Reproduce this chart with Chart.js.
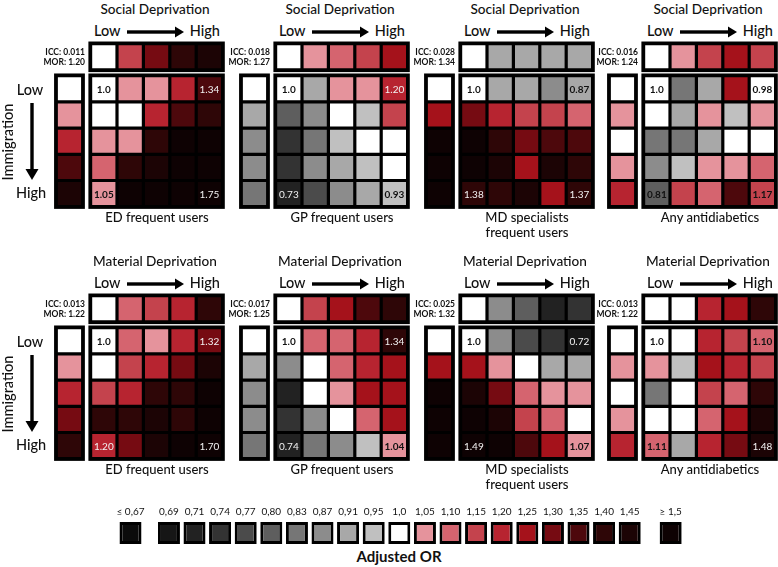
<!DOCTYPE html>
<html>
<head>
<meta charset="utf-8">
<script src="https://cdn.jsdelivr.net/npm/chart.js@4.4.0/dist/chart.umd.min.js"></script>
<style>
  body { margin: 0; background: #fff; }
  #fig { position: relative; width: 778px; height: 567px; overflow: hidden;
         font-family: Lato, "Open Sans", sans-serif; color: #111; background: #fff; }
  #fig canvas { position: absolute; }
  .t { position: absolute; white-space: nowrap; line-height: 1; }
  .big { font-size: 14.5px; font-weight: 500; }
  .ttl { font-size: 13.6px; font-weight: 500; }
  .lab { font-size: 13px; font-weight: 500; }
  .icc { font-size: 8.5px; font-weight: bold; }
  .axis { font-size: 15px; font-weight: bold; }
</style>
</head>
<body>
<div id="fig"></div>
<script>
// Adjusted OR legend bins
const orBins = [0.67, 0.69, 0.71, 0.74, 0.77, 0.80, 0.83, 0.87, 0.91, 0.95, 1.0,
                1.05, 1.10, 1.15, 1.20, 1.25, 1.30, 1.35, 1.40, 1.45, 1.5];
const orLabels = ['≤ 0,67', '0,69', '0,71', '0,74', '0,77', '0,80', '0,83', '0,87', '0,91', '0,95', '1,0',
                  '1,05', '1,10', '1,15', '1,20', '1,25', '1,30', '1,35', '1,40', '1,45', '≥ 1,5'];
const orColors = ['#0b0b0b', '#161616', '#222222', '#333333', '#4b4b4b', '#5e5e5e', '#767676', '#8c8c8c', '#a8a8a8', '#c0c0c0', '#ffffff',
                  '#e5939c', '#d5646f', '#c4434d', '#b72430', '#a5121b', '#760b12', '#4d080c', '#2e0607', '#1c0405', '#0e0203'];

// Social deprivation - ED frequent users
const socED_top = [1.0, 1.15, 1.30, 1.40, 1.45];
const socED_left = [1.0, 1.05, 1.20, 1.35, 1.45];
const socED_grid = [
  [1.0, 1.05, 1.05, 1.20, 1.35],
  [1.0, 1.0, 1.20, 1.35, 1.40],
  [1.05, 1.05, 1.40, 1.5, 1.5],
  [1.10, 1.40, 1.45, 1.5, 1.5],
  [1.05, 1.5, 1.5, 1.5, 1.5]
];
const socED_corners = ['1.0', '1.34', '1.05', '1.75'];

// Social deprivation - GP frequent users
const socGP_top = [1.0, 1.05, 1.10, 1.15, 1.25];
const socGP_left = [1.0, 0.91, 0.87, 0.87, 0.83];
const socGP_grid = [
  [1.0, 0.91, 1.05, 1.05, 1.20],
  [0.80, 0.87, 1.0, 0.95, 1.15],
  [0.74, 0.83, 0.95, 1.0, 1.0],
  [0.74, 0.87, 0.91, 0.95, 1.0],
  [0.71, 0.77, 0.87, 0.91, 0.95]
];
const socGP_corners = ['1.0', '1.20', '0.73', '0.93'];

// Social deprivation - MD specialists frequent users
const socMD_top = [1.0, 0.91, 0.91, 0.91, 0.91];
const socMD_left = [1.0, 1.25, 1.5, 1.5, 1.5];
const socMD_grid = [
  [1.0, 0.91, 0.91, 0.87, 0.91],
  [1.30, 1.20, 1.15, 1.15, 1.10],
  [1.5, 1.40, 1.30, 1.35, 1.35],
  [1.5, 1.45, 1.25, 1.45, 1.40],
  [1.40, 1.40, 1.45, 1.25, 1.40]
];
const socMD_corners = ['1.0', '0.87', '1.38', '1.37'];

// Social deprivation - any antidiabetics
const socAD_top = [1.0, 1.05, 1.15, 1.25, 1.15];
const socAD_left = [1.0, 1.05, 1.0, 1.05, 1.20];
const socAD_grid = [
  [1.0, 0.83, 0.91, 1.25, 1.0],
  [1.0, 0.91, 1.05, 0.95, 1.05],
  [0.83, 0.83, 0.91, 1.0, 1.0],
  [0.87, 0.95, 1.05, 1.05, 1.10],
  [0.80, 1.15, 1.10, 1.35, 1.15]
];
const socAD_corners = ['1.0', '0.98', '0.81', '1.17'];

// Material deprivation - ED frequent users
const matED_top = [1.0, 1.10, 1.15, 1.20, 1.40];
const matED_left = [1.0, 1.05, 1.20, 1.30, 1.40];
const matED_grid = [
  [1.0, 1.10, 1.05, 1.20, 1.30],
  [1.0, 1.15, 1.20, 1.30, 1.45],
  [1.15, 1.20, 1.40, 1.40, 1.5],
  [1.40, 1.40, 1.45, 1.40, 1.5],
  [1.20, 1.30, 1.45, 1.5, 1.5]
];
const matED_corners = ['1.0', '1.32', '1.20', '1.70'];

// Material deprivation - GP frequent users
const matGP_top = [1.0, 1.15, 1.25, 1.35, 1.40];
const matGP_left = [1.0, 0.91, 0.87, 0.87, 0.83];
const matGP_grid = [
  [1.0, 1.10, 1.10, 1.20, 1.40],
  [0.87, 1.0, 1.10, 1.20, 1.25],
  [0.71, 1.0, 1.05, 1.25, 1.25],
  [0.74, 0.87, 1.0, 1.10, 1.25],
  [0.71, 0.83, 0.87, 0.95, 1.05]
];
const matGP_corners = ['1.0', '1.34', '0.74', '1.04'];

// Material deprivation - MD specialists frequent users
const matMD_top = [1.0, 0.87, 0.80, 0.71, 0.74];
const matMD_left = [1.0, 1.25, 1.5, 1.5, 1.5];
const matMD_grid = [
  [1.0, 0.87, 0.77, 0.74, 0.69],
  [1.25, 1.05, 1.0, 0.91, 0.91],
  [1.45, 1.30, 1.10, 1.05, 1.05],
  [1.5, 1.45, 1.15, 1.10, 1.0],
  [1.5, 1.5, 1.35, 1.25, 1.05]
];
const matMD_corners = ['1.0', '0.72', '1.49', '1.07'];

// Material deprivation - any antidiabetics
const matAD_top = [1.0, 1.0, 1.20, 1.25, 1.40];
const matAD_left = [1.0, 1.05, 1.0, 1.05, 1.20];
const matAD_grid = [
  [1.0, 1.0, 1.20, 1.15, 1.10],
  [1.05, 0.95, 1.25, 1.20, 1.15],
  [0.83, 1.0, 1.15, 1.10, 1.40],
  [1.0, 1.0, 1.10, 1.25, 1.45],
  [1.10, 0.91, 1.20, 1.30, 1.45]
];
const matAD_corners = ['1.0', '1.10', '1.11', '1.48'];

const panels = [
  { title: 'Social Deprivation', outcome: ['ED frequent users'], icc: '0.011', mor: '1.20', top: socED_top, left: socED_left, grid: socED_grid, corners: socED_corners },
  { title: 'Social Deprivation', outcome: ['GP frequent users'], icc: '0.018', mor: '1.27', top: socGP_top, left: socGP_left, grid: socGP_grid, corners: socGP_corners },
  { title: 'Social Deprivation', outcome: ['MD specialists', 'frequent users'], icc: '0.028', mor: '1.34', top: socMD_top, left: socMD_left, grid: socMD_grid, corners: socMD_corners },
  { title: 'Social Deprivation', outcome: ['Any antidiabetics'], icc: '0.016', mor: '1.24', top: socAD_top, left: socAD_left, grid: socAD_grid, corners: socAD_corners },
  { title: 'Material Deprivation', outcome: ['ED frequent users'], icc: '0.013', mor: '1.22', top: matED_top, left: matED_left, grid: matED_grid, corners: matED_corners },
  { title: 'Material Deprivation', outcome: ['GP frequent users'], icc: '0.017', mor: '1.25', top: matGP_top, left: matGP_left, grid: matGP_grid, corners: matGP_corners },
  { title: 'Material Deprivation', outcome: ['MD specialists', 'frequent users'], icc: '0.025', mor: '1.32', top: matMD_top, left: matMD_left, grid: matMD_grid, corners: matMD_corners },
  { title: 'Material Deprivation', outcome: ['Any antidiabetics'], icc: '0.013', mor: '1.22', top: matAD_top, left: matAD_left, grid: matAD_grid, corners: matAD_corners }
];

Chart.defaults.font.family = 'Lato, "Open Sans", sans-serif';

const fig = document.getElementById('fig');
const U = 26.4, V = 26.2;          // cell pitch in px
const colX = [91, 276, 461, 644];  // left edge of each 5x5 grid
const rowY = [76, 328];            // top edge of each 5x5 grid

function colorFor(v) {
  let best = 0;
  orBins.forEach((b, i) => { if (Math.abs(b - v) < Math.abs(orBins[best] - v)) best = i; });
  return orColors[best];
}

function txt(s, x, y, cls, align) {
  const d = document.createElement('div');
  d.className = 't ' + cls;
  d.textContent = s;
  d.style.left = x + 'px';
  d.style.top = y + 'px';
  const tx = align === 'l' ? '0' : align === 'r' ? '-100%' : '-50%';
  d.style.transform = 'translate(' + tx + ',-50%)';
  fig.appendChild(d);
  return d;
}

function hArrow(x1, x2, y) {
  const ns = 'http://www.w3.org/2000/svg';
  const s = document.createElementNS(ns, 'svg');
  s.setAttribute('width', x2 - x1 + 2); s.setAttribute('height', 14);
  s.style.position = 'absolute'; s.style.left = x1 + 'px'; s.style.top = (y - 7) + 'px';
  s.innerHTML = '<rect x="0" y="5.3" width="' + (x2 - x1 - 7) + '" height="3.4" fill="#000"/>' +
    '<polygon points="' + (x2 - x1 - 9) + ',1.5 ' + (x2 - x1) + ',7 ' + (x2 - x1 - 9) + ',12.5" fill="#000"/>';
  fig.appendChild(s);
}

function vArrow(x, y1, y2) {
  const ns = 'http://www.w3.org/2000/svg';
  const s = document.createElementNS(ns, 'svg');
  s.setAttribute('width', 16); s.setAttribute('height', y2 - y1 + 2);
  s.style.position = 'absolute'; s.style.left = (x - 8) + 'px'; s.style.top = y1 + 'px';
  s.innerHTML = '<rect x="6.3" y="0" width="3.4" height="' + (y2 - y1 - 8) + '" fill="#000"/>' +
    '<polygon points="1.5,' + (y2 - y1 - 11) + ' 8,' + (y2 - y1) + ' 14.5,' + (y2 - y1 - 11) + '" fill="#000"/>';
  fig.appendChild(s);
}

// black frame behind each strip of cells
const framePlugin = {
  id: 'frames',
  beforeDatasetsDraw(chart, args, opts) {
    const ctx = chart.ctx;
    ctx.save();
    ctx.fillStyle = '#000';
    chart.data.datasets.forEach((ds, i) => {
      let l = Infinity, r = -Infinity, t = Infinity, b = -Infinity;
      chart.getDatasetMeta(i).data.forEach(el => {
        const p = el.getProps(['x', 'y', 'base', 'width'], true);
        l = Math.min(l, p.x - p.width / 2); r = Math.max(r, p.x + p.width / 2);
        t = Math.min(t, p.y, p.base); b = Math.max(b, p.y, p.base);
      });
      const pad = opts.pad || 0;
      ctx.fillRect(l - pad, t - pad, r - l + 2 * pad, b - t + 2 * pad);
    });
    ctx.restore();
  }
};

// OR values written in the four corner cells
const cornerPlugin = {
  id: 'corners',
  afterDatasetsDraw(chart, args, opts) {
    if (!opts.labels) return;
    const meta = chart.getDatasetMeta(2);
    const ctx = chart.ctx;
    ctx.save();
    ctx.textAlign = 'center';
    ctx.textBaseline = 'middle';
    [0, 4, 20, 24].forEach((idx, k) => {
      const el = meta.data[idx];
      const p = el.getProps(['x', 'y', 'base'], true);
      const s = opts.labels[k];
      const n = parseFloat(s);
      const dark = n >= 0.78 && n <= 1.18;
      ctx.fillStyle = dark ? '#111' : '#f2f2f2';
      ctx.font = (dark ? 'bold ' : '') + '10px Lato, sans-serif';
      ctx.fillText(s, p.x, (p.y + p.base) / 2 + 1);
    });
    ctx.restore();
  }
};

function makePanel(p, gx, gy) {
  const W = 175, H = 171;
  const cv = document.createElement('canvas');
  cv.width = W; cv.height = H;
  cv.style.left = (gx - 1.5 * U) + 'px';
  cv.style.top = (gy - 1.4 * V) + 'px';
  cv.style.width = W + 'px'; cv.style.height = H + 'px';
  fig.appendChild(cv);

  const topData = p.top.map((v, c) => ({ x: c + 0.5, y: [-1.22, -0.22], v }));
  const leftData = p.left.map((v, r) => ({ x: -0.8, y: [r, r + 1], v }));
  const gridData = [];
  p.grid.forEach((row, r) => row.forEach((v, c) => gridData.push({ x: c + 0.5, y: [r, r + 1], v })));

  const cellStyle = {
    backgroundColor: ctx => colorFor(ctx.raw.v),
    borderColor: '#000',
    borderWidth: 1.6,
    borderSkipped: false,
    inflateAmount: 0,
    grouped: false,
    barPercentage: 1,
    categoryPercentage: 1
  };

  new Chart(cv, {
    type: 'bar',
    data: {
      datasets: [
        Object.assign({ label: 'top', data: topData }, cellStyle),
        Object.assign({ label: 'left', data: leftData }, cellStyle),
        Object.assign({ label: 'grid', data: gridData }, cellStyle)
      ]
    },
    options: {
      responsive: false,
      animation: false,
      layout: { padding: 0 },
      scales: {
        x: { type: 'linear', display: false, offset: false, grid: { offset: false },
             min: -1.5, max: -1.5 + W / U,
             afterBuildTicks: s => { s.ticks = [0, 1, 2, 3, 4, 5].map(v => ({ value: v })); } },
        y: { type: 'linear', display: false, reverse: true, min: -1.4, max: -1.4 + H / V }
      },
      plugins: {
        legend: { display: false },
        tooltip: { enabled: false },
        frames: { pad: 2.2 },
        corners: { labels: p.corners }
      }
    },
    plugins: [framePlugin, cornerPlugin]
  });

  // texts around the panel
  txt(p.title, gx + 64, gy - 66, 'ttl', 'c');
  txt('Low', gx + 3, gy - 45, 'big', 'l');
  txt('High', gx + 129, gy - 45, 'big', 'r');
  hArrow(gx + 36, gx + 93, gy - 44);
  txt('ICC: ' + p.icc, gx - 6, gy - 24, 'icc', 'r');
  txt('MOR: ' + p.mor, gx - 6, gy - 14, 'icc', 'r');
  p.outcome.forEach((line, i) => txt(line, gx + 66, gy + 141 + i * 15, 'lab', 'c'));
}

panels.forEach((p, i) => makePanel(p, colX[i % 4], rowY[Math.floor(i / 4)]));

// immigration axis labels
rowY.forEach(gy => {
  txt('Low', 30, gy + 14, 'big', 'c');
  txt('High', 31, gy + 117, 'big', 'c');
  vArrow(32, gy + 27, gy + 104);
  const im = txt('Immigration', 8, gy + 66, 'big', 'c');
  im.style.transform = 'translate(-50%,-50%) rotate(-90deg)';
});

// colour legend
const legendPos = orBins.map((_, i) => i === 0 ? 0 : (i === orBins.length - 1 ? i + 1.1 : i + 0.5));
(function makeLegend() {
  const W = 600, H = 44, PX = 25.6;
  const cv = document.createElement('canvas');
  cv.width = W; cv.height = H;
  cv.style.left = '100px'; cv.style.top = '500px';
  cv.style.width = W + 'px'; cv.style.height = H + 'px';
  fig.appendChild(cv);
  const xmin = -30.5 / PX;
  new Chart(cv, {
    type: 'bar',
    data: {
      datasets: [{
        data: orBins.map((v, i) => ({ x: legendPos[i], y: 1 })),
        backgroundColor: orColors,
        borderColor: '#000',
        borderWidth: 3,
        borderSkipped: false,
        inflateAmount: 0,
        barPercentage: 0.86,
        categoryPercentage: 1
      }]
    },
    options: {
      responsive: false,
      animation: false,
      layout: { padding: 0 },
      scales: {
        x: { type: 'linear', position: 'top', offset: false, min: xmin, max: xmin + W / PX,
             grid: { display: false, drawTicks: false, offset: false }, border: { display: false },
             afterBuildTicks: s => { s.ticks = legendPos.map(v => ({ value: v })); },
             afterFit: s => { s.height = 22; },
             ticks: { autoSkip: false, maxRotation: 0, padding: 4, color: '#111',
                      font: { size: 10 }, callback: (v, i) => orLabels[i] } },
        y: { display: false, min: 0, max: 1 }
      },
      plugins: { legend: { display: false }, tooltip: { enabled: false } }
    }
  });
})();
txt('Adjusted OR', 399, 556, 'axis', 'c');
</script>
</body>
</html>
